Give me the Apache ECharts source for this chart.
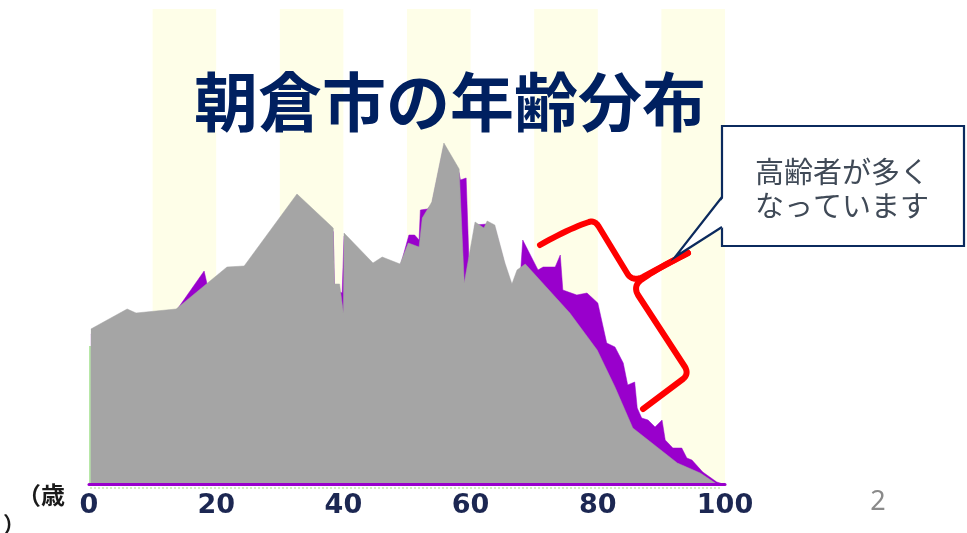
<!DOCTYPE html>
<html><head><meta charset="utf-8">
<script src="https://cdn.jsdelivr.net/npm/echarts@6/dist/echarts.min.js"></script>
<style>html,body{margin:0;padding:0;background:#fff}#c{width:967px;height:533px}</style>
</head><body><div id="c"></div>
<script>
const xTicks = [0, 20, 40, 60, 80, 100];
const stripeRanges = [[10, 20], [30, 40], [50, 60], [70, 80], [90, 100]];

const grayAges = [0.3, 6.0, 7.4, 13.7, 21.7, 24.4, 32.7, 38.4, 38.6, 39.4, 40.0, 40.1, 44.65, 46.1, 48.9, 50.2, 51.9, 52.4, 53.9, 55.8, 58.2, 59.0, 60.7, 62.1, 62.6, 63.8, 65.4, 66.5, 67.3, 68.6, 75.6, 79.9, 82.7, 85.5, 89.3, 92.5, 96.1, 98.7];
const grayValues = [310, 350, 342, 350, 434, 436, 580, 512, 400, 400, 342, 502, 442, 454, 440, 482, 474, 532, 564, 682, 630, 402, 524, 512, 526, 518, 442, 400, 428, 440, 342, 268, 194, 112, 74, 42, 22, 0];

const purpleAges = [0.3, 6.0, 7.4, 13.8, 18.1, 18.6, 21.7, 24.4, 32.7, 38.4, 38.6, 39.8, 40.1, 44.65, 46.1, 48.9, 50.3, 51.2, 51.9, 52.1, 53.2, 53.9, 55.8, 57.0, 58.2, 58.4, 59.3, 59.9, 60.7, 62.6, 63.8, 65.4, 66.5, 67.3, 67.9, 68.2, 70.6, 71.4, 73.3, 74.1, 74.5, 76.7, 78.3, 80.0, 81.4, 82.7, 84.0, 84.7, 85.8, 86.2, 86.9, 87.9, 89.0, 90.1, 90.6, 91.8, 93.2, 94.0, 94.8, 96.5, 98.7, 99.7];
const purpleValues = [300, 340, 334, 348, 426, 398, 430, 430, 570, 505, 390, 382, 495, 436, 448, 434, 498, 498, 488, 548, 550, 558, 675, 652, 622, 608, 612, 388, 518, 520, 512, 436, 394, 422, 432, 488, 428, 434, 434, 458, 388, 378, 382, 362, 282, 274, 242, 198, 204, 152, 132, 128, 114, 128, 88, 72, 72, 52, 48, 24, 4, 0];

const titleText = '朝倉市の年齢分布';
const calloutLines = ['高齢者が多く', 'なっています'];
const unitLabel = ['（歳', '）'];
const pageNo = '2';

const zip = (a, b) => a.map((v, i) => [v, b[i]]);

// brace drawing helper: sequence of commands -> polyline points
function buildPts(start, cmds) {
  const pts = [start];
  let cur = start;
  cmds.forEach(c => {
    if (c.length === 2) { pts.push(c); cur = c; }
    else {
      const [cx, cy, ex, ey] = c;
      for (let i = 1; i <= 12; i++) {
        const t = i / 12, u = 1 - t;
        pts.push([u * u * cur[0] + 2 * u * t * cx + t * t * ex, u * u * cur[1] + 2 * u * t * cy + t * t * ey]);
      }
      cur = [ex, ey];
    }
  });
  return pts;
}
const braceTop = buildPts([540, 245], [[568, 229, 589, 222], [595, 220, 599, 227], [627, 273], [632, 282, 643, 277], [665, 265, 688, 253]]);
const braceBottom = buildPts([688, 253], [[658, 268, 641, 280], [633, 286, 638, 295], [685, 367], [689, 374, 683, 379], [643, 409]]);

const chart = echarts.init(document.getElementById('c'), null, { renderer: 'canvas' });
chart.setOption({
  animation: false,
  backgroundColor: '#ffffff',
  grid: { left: 89, right: 242, top: 9, bottom: 49 },
  xAxis: {
    type: 'value', min: 0, max: 100, interval: 20, z: 5,
    axisLine: { show: true, lineStyle: { color: '#9900cc', width: 3 } },
    axisTick: { show: false },
    splitLine: { show: false },
    axisLabel: {
      margin: 8, color: '#1c2752', fontFamily: 'DejaVu Sans', fontWeight: 'bold', fontSize: 27,
      formatter: v => (xTicks.indexOf(v) >= 0 ? String(v) : '')
    }
  },
  yAxis: { type: 'value', min: 0, max: 950, show: false, splitLine: { show: false } },
  series: [
    {
      type: 'line', name: 'purple', z: 2, showSymbol: false, silent: true,
      data: zip(purpleAges, purpleValues),
      lineStyle: { color: '#9900cc', width: 0.5 },
      itemStyle: { color: '#9900cc' },
      areaStyle: { color: '#9900cc', opacity: 1 },
      markArea: {
        silent: true,
        itemStyle: { color: '#fefee8' },
        data: stripeRanges.map(r => [{ xAxis: r[0] }, { xAxis: r[1] }])
      }
    },
    {
      type: 'line', name: 'gray', z: 3, showSymbol: false, silent: true,
      data: zip(grayAges, grayValues),
      lineStyle: { color: '#a5a5a5', width: 0.5 },
      itemStyle: { color: '#a5a5a5' },
      areaStyle: { color: '#a5a5a5', opacity: 1 }
    }
  ],
  graphic: [
    { type: 'line', z: 1, shape: { x1: 90, y1: 488, x2: 722, y2: 488 },
      style: { stroke: '#d4ecc4', lineWidth: 2, lineDash: [2, 2] } },
    { type: 'line', z: 1, shape: { x1: 90, y1: 346, x2: 90, y2: 484 },
      style: { stroke: '#9fe08a', lineWidth: 1.5 } },
    { type: 'text', z: 10, style: { text: titleText, x: 450, y: 102, fill: '#002060',
      fontSize: 64, fontWeight: 'bold', fontFamily: 'Noto Sans CJK JP', align: 'center', verticalAlign: 'middle' } },
    { type: 'rect', z: 10, shape: { x: 722, y: 126, width: 242, height: 120 },
      style: { fill: '#ffffff', stroke: '#0b2a5e', lineWidth: 2.2 } },
    { type: 'polygon', z: 11, shape: { points: [[724, 197], [675, 257], [724, 227]] },
      style: { fill: '#ffffff' } },
    { type: 'polyline', z: 12, shape: { points: braceTop },
      style: { fill: null, stroke: '#ff0000', lineWidth: 6, lineCap: 'round', lineJoin: 'round' } },
    { type: 'polyline', z: 12, shape: { points: braceBottom },
      style: { fill: null, stroke: '#ff0000', lineWidth: 6, lineCap: 'round', lineJoin: 'round' } },
    { type: 'polyline', z: 13, shape: { points: [[722, 197], [675, 257], [722, 227]] },
      style: { fill: null, stroke: '#0b2a5e', lineWidth: 2.2, lineJoin: 'miter' } },
    { type: 'text', z: 14, style: { text: calloutLines[0], x: 755, y: 172, fill: '#404a57',
      fontSize: 29, fontFamily: 'Noto Sans CJK JP', align: 'left', verticalAlign: 'middle' } },
    { type: 'text', z: 14, style: { text: calloutLines[1], x: 755, y: 206, fill: '#404a57',
      fontSize: 29, fontFamily: 'Noto Sans CJK JP', align: 'left', verticalAlign: 'middle' } },
    { type: 'text', z: 14, style: { text: unitLabel[0], x: 65, y: 495, fill: '#1a1a1a',
      fontSize: 24, fontWeight: 'bold', fontFamily: 'Noto Sans CJK JP', align: 'right', verticalAlign: 'middle' } },
    { type: 'text', z: 14, style: { text: unitLabel[1], x: 3, y: 524, fill: '#1a1a1a',
      fontSize: 22, fontWeight: 'bold', fontFamily: 'Noto Sans CJK JP', align: 'left', verticalAlign: 'middle' } },
    { type: 'text', z: 14, style: { text: pageNo, x: 878, y: 502, fill: '#8a8a8a',
      fontSize: 27, fontFamily: 'Noto Sans', align: 'center', verticalAlign: 'middle' } }
  ]
});
</script></body></html>
